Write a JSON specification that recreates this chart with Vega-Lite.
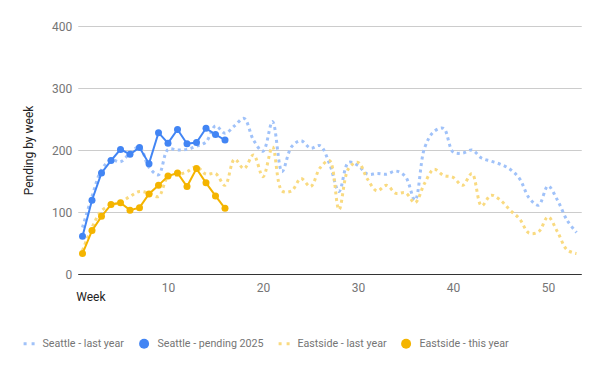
{
  "$schema": "https://vega.github.io/schema/vega-lite/v6.json",
  "width": 503.5,
  "height": 248,
  "autosize": {"type": "none"},
  "padding": {"left": 77.75, "top": 26, "right": 18.75, "bottom": 97},
  "background": "white",
  "datasets": {
    "lastyear": [
      {"week": 1, "series": "Seattle - last year", "value": 75},
      {"week": 2, "series": "Seattle - last year", "value": 125},
      {"week": 3, "series": "Seattle - last year", "value": 168},
      {"week": 4, "series": "Seattle - last year", "value": 184},
      {"week": 5, "series": "Seattle - last year", "value": 181},
      {"week": 6, "series": "Seattle - last year", "value": 195},
      {"week": 7, "series": "Seattle - last year", "value": 205},
      {"week": 8, "series": "Seattle - last year", "value": 172},
      {"week": 9, "series": "Seattle - last year", "value": 160},
      {"week": 10, "series": "Seattle - last year", "value": 201},
      {"week": 11, "series": "Seattle - last year", "value": 200},
      {"week": 12, "series": "Seattle - last year", "value": 201},
      {"week": 13, "series": "Seattle - last year", "value": 206},
      {"week": 14, "series": "Seattle - last year", "value": 213},
      {"week": 15, "series": "Seattle - last year", "value": 239},
      {"week": 16, "series": "Seattle - last year", "value": 227},
      {"week": 17, "series": "Seattle - last year", "value": 239},
      {"week": 18, "series": "Seattle - last year", "value": 251},
      {"week": 19, "series": "Seattle - last year", "value": 216},
      {"week": 20, "series": "Seattle - last year", "value": 198},
      {"week": 21, "series": "Seattle - last year", "value": 246},
      {"week": 22, "series": "Seattle - last year", "value": 165},
      {"week": 23, "series": "Seattle - last year", "value": 205},
      {"week": 24, "series": "Seattle - last year", "value": 215},
      {"week": 25, "series": "Seattle - last year", "value": 203},
      {"week": 26, "series": "Seattle - last year", "value": 207},
      {"week": 27, "series": "Seattle - last year", "value": 178},
      {"week": 28, "series": "Seattle - last year", "value": 133},
      {"week": 29, "series": "Seattle - last year", "value": 180},
      {"week": 30, "series": "Seattle - last year", "value": 175},
      {"week": 31, "series": "Seattle - last year", "value": 161},
      {"week": 32, "series": "Seattle - last year", "value": 162},
      {"week": 33, "series": "Seattle - last year", "value": 161},
      {"week": 34, "series": "Seattle - last year", "value": 166},
      {"week": 35, "series": "Seattle - last year", "value": 157},
      {"week": 36, "series": "Seattle - last year", "value": 119},
      {"week": 37, "series": "Seattle - last year", "value": 203},
      {"week": 38, "series": "Seattle - last year", "value": 230},
      {"week": 39, "series": "Seattle - last year", "value": 235},
      {"week": 40, "series": "Seattle - last year", "value": 197},
      {"week": 41, "series": "Seattle - last year", "value": 195},
      {"week": 42, "series": "Seattle - last year", "value": 200},
      {"week": 43, "series": "Seattle - last year", "value": 187},
      {"week": 44, "series": "Seattle - last year", "value": 182},
      {"week": 45, "series": "Seattle - last year", "value": 177},
      {"week": 46, "series": "Seattle - last year", "value": 169},
      {"week": 47, "series": "Seattle - last year", "value": 154},
      {"week": 48, "series": "Seattle - last year", "value": 123},
      {"week": 49, "series": "Seattle - last year", "value": 111},
      {"week": 50, "series": "Seattle - last year", "value": 142},
      {"week": 51, "series": "Seattle - last year", "value": 119},
      {"week": 52, "series": "Seattle - last year", "value": 87},
      {"week": 53, "series": "Seattle - last year", "value": 67},
      {"week": 1, "series": "Eastside - last year", "value": 38},
      {"week": 2, "series": "Eastside - last year", "value": 75},
      {"week": 3, "series": "Eastside - last year", "value": 102},
      {"week": 4, "series": "Eastside - last year", "value": 111},
      {"week": 5, "series": "Eastside - last year", "value": 116},
      {"week": 6, "series": "Eastside - last year", "value": 125},
      {"week": 7, "series": "Eastside - last year", "value": 133},
      {"week": 8, "series": "Eastside - last year", "value": 130},
      {"week": 9, "series": "Eastside - last year", "value": 125},
      {"week": 10, "series": "Eastside - last year", "value": 157},
      {"week": 11, "series": "Eastside - last year", "value": 160},
      {"week": 12, "series": "Eastside - last year", "value": 165},
      {"week": 13, "series": "Eastside - last year", "value": 173},
      {"week": 14, "series": "Eastside - last year", "value": 161},
      {"week": 15, "series": "Eastside - last year", "value": 162},
      {"week": 16, "series": "Eastside - last year", "value": 143},
      {"week": 17, "series": "Eastside - last year", "value": 185},
      {"week": 18, "series": "Eastside - last year", "value": 170},
      {"week": 19, "series": "Eastside - last year", "value": 192},
      {"week": 20, "series": "Eastside - last year", "value": 157},
      {"week": 21, "series": "Eastside - last year", "value": 205},
      {"week": 22, "series": "Eastside - last year", "value": 134},
      {"week": 23, "series": "Eastside - last year", "value": 134},
      {"week": 24, "series": "Eastside - last year", "value": 154},
      {"week": 25, "series": "Eastside - last year", "value": 141},
      {"week": 26, "series": "Eastside - last year", "value": 171},
      {"week": 27, "series": "Eastside - last year", "value": 183},
      {"week": 28, "series": "Eastside - last year", "value": 104},
      {"week": 29, "series": "Eastside - last year", "value": 170},
      {"week": 30, "series": "Eastside - last year", "value": 180},
      {"week": 31, "series": "Eastside - last year", "value": 153},
      {"week": 32, "series": "Eastside - last year", "value": 134},
      {"week": 33, "series": "Eastside - last year", "value": 143},
      {"week": 34, "series": "Eastside - last year", "value": 130},
      {"week": 35, "series": "Eastside - last year", "value": 131},
      {"week": 36, "series": "Eastside - last year", "value": 115},
      {"week": 37, "series": "Eastside - last year", "value": 146},
      {"week": 38, "series": "Eastside - last year", "value": 169},
      {"week": 39, "series": "Eastside - last year", "value": 159},
      {"week": 40, "series": "Eastside - last year", "value": 156},
      {"week": 41, "series": "Eastside - last year", "value": 143},
      {"week": 42, "series": "Eastside - last year", "value": 162},
      {"week": 43, "series": "Eastside - last year", "value": 110},
      {"week": 44, "series": "Eastside - last year", "value": 127},
      {"week": 45, "series": "Eastside - last year", "value": 119},
      {"week": 46, "series": "Eastside - last year", "value": 103},
      {"week": 47, "series": "Eastside - last year", "value": 89},
      {"week": 48, "series": "Eastside - last year", "value": 66},
      {"week": 49, "series": "Eastside - last year", "value": 68},
      {"week": 50, "series": "Eastside - last year", "value": 92},
      {"week": 51, "series": "Eastside - last year", "value": 68},
      {"week": 52, "series": "Eastside - last year", "value": 39},
      {"week": 53, "series": "Eastside - last year", "value": 33}
    ],
    "thisyear": [
      {"week": 1, "series": "Seattle - pending 2025", "value": 61},
      {"week": 2, "series": "Seattle - pending 2025", "value": 119},
      {"week": 3, "series": "Seattle - pending 2025", "value": 163},
      {"week": 4, "series": "Seattle - pending 2025", "value": 183},
      {"week": 5, "series": "Seattle - pending 2025", "value": 201},
      {"week": 6, "series": "Seattle - pending 2025", "value": 193},
      {"week": 7, "series": "Seattle - pending 2025", "value": 204},
      {"week": 8, "series": "Seattle - pending 2025", "value": 178},
      {"week": 9, "series": "Seattle - pending 2025", "value": 228},
      {"week": 10, "series": "Seattle - pending 2025", "value": 211},
      {"week": 11, "series": "Seattle - pending 2025", "value": 233},
      {"week": 12, "series": "Seattle - pending 2025", "value": 210},
      {"week": 13, "series": "Seattle - pending 2025", "value": 212},
      {"week": 14, "series": "Seattle - pending 2025", "value": 235},
      {"week": 15, "series": "Seattle - pending 2025", "value": 225},
      {"week": 16, "series": "Seattle - pending 2025", "value": 216},
      {"week": 1, "series": "Eastside - this year", "value": 33},
      {"week": 2, "series": "Eastside - this year", "value": 70},
      {"week": 3, "series": "Eastside - this year", "value": 93},
      {"week": 4, "series": "Eastside - this year", "value": 112},
      {"week": 5, "series": "Eastside - this year", "value": 115},
      {"week": 6, "series": "Eastside - this year", "value": 103},
      {"week": 7, "series": "Eastside - this year", "value": 107},
      {"week": 8, "series": "Eastside - this year", "value": 129},
      {"week": 9, "series": "Eastside - this year", "value": 143},
      {"week": 10, "series": "Eastside - this year", "value": 158},
      {"week": 11, "series": "Eastside - this year", "value": 163},
      {"week": 12, "series": "Eastside - this year", "value": 141},
      {"week": 13, "series": "Eastside - this year", "value": 170},
      {"week": 14, "series": "Eastside - this year", "value": 147},
      {"week": 15, "series": "Eastside - this year", "value": 126},
      {"week": 16, "series": "Eastside - this year", "value": 106}
    ]
  },
  "encoding": {
    "x": {
      "field": "week",
      "type": "quantitative",
      "scale": {"domain": [0.5, 53.5], "nice": false, "zero": false},
      "axis": {
        "values": [10, 20, 30, 40, 50],
        "grid": false,
        "ticks": false,
        "domainColor": "#333333",
        "domainWidth": 1,
        "labelColor": "#757575",
        "labelFontSize": 12,
        "labelPadding": 8,
        "title": "Week",
        "titleAnchor": "start",
        "titleAlign": "left",
        "titleBaseline": "middle",
        "titleX": -2,
        "titleY": 22,
        "titleColor": "#222222",
        "titleFontSize": 12,
        "titleFontWeight": "normal"
      }
    },
    "y": {
      "field": "value",
      "type": "quantitative",
      "scale": {"domain": [0, 400], "nice": false},
      "axis": {
        "values": [0, 100, 200, 300, 400],
        "grid": true,
        "gridColor": "#cccccc",
        "ticks": false,
        "domain": false,
        "labelColor": "#757575",
        "labelFontSize": 12,
        "labelPadding": 6,
        "title": "Pending by week",
        "titleColor": "#222222",
        "titleFontSize": 12,
        "titleFontWeight": "normal",
        "titlePadding": 16
      }
    },
    "color": {
      "field": "series",
      "type": "nominal",
      "scale": {
        "domain": ["Seattle - last year", "Seattle - pending 2025", "Eastside - last year", "Eastside - this year"],
        "range": ["#a0c2f9", "#4285f4", "#f9da80", "#f4b400"]
      },
      "legend": {"title": null}
    }
  },
  "layer": [
    {
      "data": {"name": "lastyear"},
      "mark": {"type": "line", "interpolate": "catmull-rom", "strokeWidth": 3, "strokeDash": [3, 3.5]}
    },
    {
      "data": {"name": "thisyear"},
      "mark": {"type": "line", "strokeWidth": 2}
    },
    {
      "data": {"name": "thisyear"},
      "mark": {"type": "point", "filled": true, "opacity": 1, "size": 49},
      "encoding": {
        "shape": {
          "field": "series",
          "type": "nominal",
          "scale": {
            "domain": ["Seattle - last year", "Seattle - pending 2025", "Eastside - last year", "Eastside - this year"],
            "range": ["M-1.1,-0.3H-0.5V0.3H-1.1Z M0.5,-0.3H1.1V0.3H0.5Z", "circle", "M-1.1,-0.3H-0.5V0.3H-1.1Z M0.5,-0.3H1.1V0.3H0.5Z", "circle"]
          },
          "legend": {"title": null}
        }
      }
    }
  ],
  "config": {
    "font": "Roboto",
    "view": {"stroke": null},
    "legend": {
      "orient": "none",
      "legendX": -54,
      "legendY": 312,
      "direction": "horizontal",
      "columns": 4,
      "labelFontSize": 10.7,
      "labelColor": "#757575",
      "symbolSize": 100,
      "symbolStrokeWidth": 0,
      "symbolOpacity": 1,
      "columnPadding": 14,
      "labelOffset": 8
    }
  }
}
